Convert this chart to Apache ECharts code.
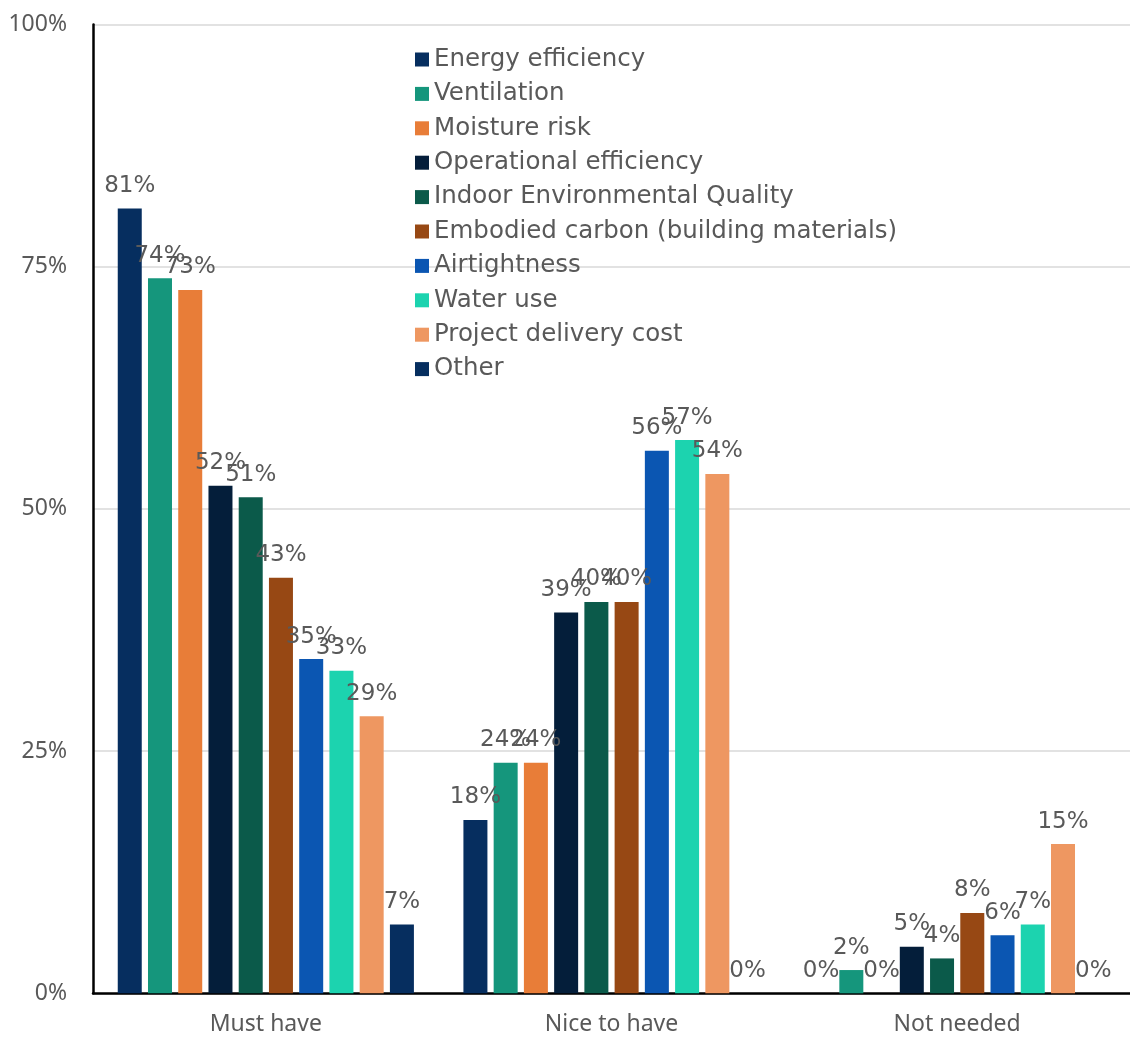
<!DOCTYPE html>
<html>
<head>
<meta charset="utf-8">
<script src="https://cdn.jsdelivr.net/npm/echarts@6/dist/echarts.min.js"></script>
<style>
  html, body { margin: 0; padding: 0; background: #ffffff; }
  #chart { width: 1130px; height: 1039px; }
</style>
</head>
<body>
<div id="chart"></div>
<script>
const categories = ['Must have', 'Nice to have', 'Not needed'];
const seriesNames = [
  'Energy efficiency', 'Ventilation', 'Moisture risk', 'Operational efficiency',
  'Indoor Environmental Quality', 'Embodied carbon (building materials)',
  'Airtightness', 'Water use', 'Project delivery cost', 'Other'
];
const mustHave   = [81.0, 73.8, 72.6, 52.4, 51.2, 42.9, 34.5, 33.3, 28.6, 7.1];
const niceToHave = [17.9, 23.8, 23.8, 39.3, 40.4, 40.4, 56.0, 57.1, 53.6, 0];
const notNeeded  = [0, 2.4, 0, 4.8, 3.6, 8.3, 6.0, 7.1, 15.4, 0];
const yTicks = [0, 25, 50, 75, 100];

const colors = ['#062E5F', '#15967C', '#E87D38', '#041E3A', '#0B5A4A',
                '#974814', '#0B56B2', '#1CD3AF', '#EE9761', '#062E5F'];

const series = seriesNames.map((name, i) => ({
  name: name,
  type: 'bar',
  data: [mustHave[i], niceToHave[i], notNeeded[i]],
  barWidth: 24,
  barGap: '26%',
  itemStyle: { color: colors[i] },
  label: {
    show: true,
    position: 'top',
    distance: 11,
    fontFamily: 'DejaVu Sans',
    fontSize: 23,
    color: '#595959',
    formatter: p => Math.round(p.value) + '%'
  }
}));

const chart = echarts.init(document.getElementById('chart'), null, { renderer: 'canvas' });
chart.setOption({
  animation: false,
  backgroundColor: '#ffffff',
  grid: { left: 93, top: 24.5, width: 1043, height: 968.8, containLabel: false },
  legend: {
    orient: 'vertical',
    left: 410,
    top: 42,
    icon: 'rect',
    itemWidth: 14,
    itemHeight: 14,
    itemGap: 9.4,
    textStyle: { fontFamily: 'DejaVu Sans', fontSize: 24.5, color: '#595959', lineHeight: 22 },
    data: seriesNames
  },
  xAxis: {
    type: 'category',
    data: categories,
    axisLine: { lineStyle: { color: '#000000', width: 2.5 } },
    axisTick: { show: false },
    axisLabel: { fontFamily: 'Noto Sans', fontSize: 23, color: '#595959', margin: 20 }
  },
  yAxis: {
    type: 'value',
    min: yTicks[0],
    max: yTicks[yTicks.length - 1],
    interval: 25,
    axisLine: { show: true, lineStyle: { color: '#000000', width: 2.5 } },
    axisTick: { show: false },
    splitLine: { lineStyle: { color: '#D9D9D9', width: 1.5 } },
    axisLabel: { fontFamily: 'Noto Sans', fontSize: 23, color: '#595959', margin: 26, formatter: '{value}%' }
  },
  series: series
});
</script>
</body>
</html>
